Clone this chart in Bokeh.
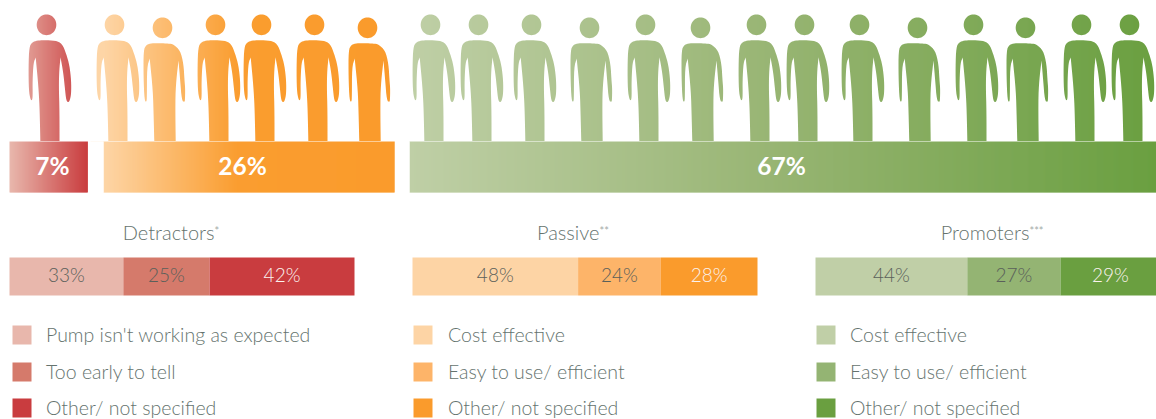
from bokeh.plotting import figure
from bokeh.models import Range1d
from bokeh.core.properties import value
from bokeh.embed import file_html
from bokeh.resources import INLINE
import math

# ---- data ----
group_names = ["Detractors", "Passive", "Promoters"]
group_marks = ["*", "**", "***"]
group_shares = [7, 26, 67]
detractor_values = [33, 25, 42]
passive_values = [48, 24, 28]
promoter_values = [44, 27, 29]
detractor_labels = ["Pump isn't working as expected", "Too early to tell", "Other/ not specified"]
passive_labels = ["Cost effective", "Easy to use/ efficient", "Other/ not specified"]
promoter_labels = ["Cost effective", "Easy to use/ efficient", "Other/ not specified"]
red_shades = ["#e8b7ac", "#d57a6b", "#c93c3f"]
orange_shades = ["#fdd4a5", "#fdb469", "#fa9b2c"]
green_shades = ["#c0cfa7", "#94b473", "#6a9f40"]

# ---- layout (reference pixels) ----
TXT = "#65736e"
FONT = value("Lato Light")
share_starts = [9, 103, 409]
share_scale = 11.2
seg_starts = [9, 412, 815]
seg_scale = 3.45
square_x = [12, 413, 816]
label_x = [45.5, 447.5, 849.5]
legend_y = [325, 362, 398]
legend_mid = [333.5, 370.5, 406.5]
share_centers = [52, 242, 781]
title_end = [214, 599, 1029]
grad_stops = [
    [(0, "#e8b7ac"), (1, "#c93c3e")],
    [(0, "#fdd5a6"), (0.46, "#fa9d30"), (1, "#fa9b2c")],
    [(0, "#bfcfa6"), (0.48, "#98b574"), (1, "#6a9f40")],
]

p = figure(width=1156, height=419, output_backend="svg", toolbar_location=None,
           x_range=Range1d(0, 1156), y_range=Range1d(419, 0),
           min_border=0, outline_line_color=None, background_fill_color="white")
p.axis.visible = False
p.grid.visible = False


def hex2rgb(h):
    return tuple(int(h[i:i + 2], 16) for i in (1, 3, 5))


def ramp(stops, t):
    for (a, ca), (b, cb) in zip(stops, stops[1:]):
        if t <= b:
            u = (t - a) / (b - a)
            ra, rb = hex2rgb(ca), hex2rgb(cb)
            return "#%02x%02x%02x" % tuple(round(x + (y - x) * u) for x, y in zip(ra, rb))
    return stops[-1][1]


# gradient columns, later masked down to silhouettes
L, R, C = [], [], []
for start, share, stops in zip(share_starts, group_shares, grad_stops):
    w = share * share_scale
    n = int(w)
    for i in range(n):
        L.append(start + i)
        R.append(min(start + i + 1.6, start + w))
        C.append(ramp(stops, i / n))
# the first orange figure's arm reaches left of its bar
p.quad(left=[90], right=[104], top=10, bottom=141, fill_color=[grad_stops[1][0][1]], line_color=None)
p.quad(left=L, right=R, top=10, bottom=192, fill_color=C, line_color=None)

# silhouettes: (head x, variant)
people_x = [46, 114, 162, 215, 261, 314, 367, 430, 478, 531, 589, 645, 700, 756, 804, 859, 917, 973, 1025, 1081, 1129]
people_short = [0, 0, 1, 0, 0, 0, 1, 0, 0, 0, 1, 0, 1, 0, 0, 0, 1, 0, 1, 0, 0]
body_a = [(-2.7, 39.7), (9, 40), (15.7, 43.3), (19.7, 53.3), (23, 65), (24.7, 80), (24.7, 93.3), (23.3, 100),
          (21.7, 102), (19.7, 100), (18.3, 86.7), (16.7, 71.7), (14, 56.7), (14, 56.7), (12.7, 70), (12.3, 86.7),
          (13, 110), (13, 150), (13, 150), (-6, 150), (-6, 150), (-6.5, 123), (-7.2, 100), (-8.6, 80), (-10.8, 57),
          (-10.8, 57), (-13, 62), (-14, 80), (-13.8, 96), (-14.5, 100), (-16, 99.3), (-17.7, 90), (-18, 66.7),
          (-17.3, 46.7), (-14.3, 41.7), (-9.3, 40)]
body_b = [(-2.7, 42.7), (6, 43), (11, 43.8), (17.7, 50), (21, 63), (22, 80), (22.7, 88), (22.5, 99),
          (22, 101.7), (19.3, 100), (17.7, 80), (16, 60), (16, 60), (13.7, 80), (12.7, 100), (13.3, 150), (13.3, 150),
          (-8, 150), (-8, 150), (-8.8, 117), (-9.6, 90), (-12.8, 58), (-12.8, 58), (-15.5, 66.7), (-15.6, 96),
          (-16, 101.7), (-18, 100), (-19, 76.7), (-19, 50), (-16.3, 44.3), (-10.7, 42.7)]


def chaikin(pts, n=2):
    for _ in range(n):
        out = []
        m = len(pts)
        for i in range(m):
            a, b = pts[i], pts[(i + 1) % m]
            out.append((a[0] * .75 + b[0] * .25, a[1] * .75 + b[1] * .25))
            out.append((a[0] * .25 + b[0] * .75, a[1] * .25 + b[1] * .75))
        pts = out
    return pts


smooth = [chaikin(body_a), chaikin(body_b)]
rings_x, rings_y = [[0, 1156, 1156, 0]], [[0, 0, 141, 141]]
for cx, short in zip(people_x, people_short):
    cy = 27.3 if short else 24.3
    rings_x.append([cx + 9.8 * math.cos(k * math.pi / 24) for k in range(48)])
    rings_y.append([cy + 10.4 * math.sin(k * math.pi / 24) for k in range(48)])
    rings_x.append([cx + a for a, b in smooth[short]])
    rings_y.append([min(b, 141.5) for a, b in smooth[short]])
p.multi_polygons(xs=[[rings_x]], ys=[[rings_y]], fill_color="white", line_color=None)
# white gap strips between the three bars
for a, b in [(88, 103), (395, 409)]:
    p.quad(left=a, right=b, top=141, bottom=192, fill_color="white", line_color=None)

p.text(x=share_centers, y=[165] * 3, text=[f"{v}%" for v in group_shares], text_align="center",
       text_color="white", text_font=value("Lato"), text_font_style="bold", text_font_size="24.5px",
       text_baseline="middle")

# stacked 100% bars, titles, legends
all_values = [detractor_values, passive_values, promoter_values]
all_labels = [detractor_labels, passive_labels, promoter_labels]
all_shades = [red_shades, orange_shades, green_shades]
for g in range(3):
    pos = seg_starts[g]
    for j in range(3):
        v = all_values[g][j]
        w = v * seg_scale
        p.quad(left=pos, right=pos + w, top=257, bottom=295, fill_color=all_shades[g][j], line_color=None)
        col = "#fbf3ef" if j == 2 else "#5a605a"
        p.text(x=[pos + w / 2], y=[274], text=[f"{v}%"], text_align="center", text_color=col,
               text_font=FONT, text_font_size="19px", text_baseline="middle")
        p.quad(left=square_x[g], right=square_x[g] + 19, top=legend_y[j], bottom=legend_y[j] + 19,
               fill_color=all_shades[g][j], line_color=None)
        p.text(x=[label_x[g]], y=[legend_mid[j]], text=[all_labels[g][j]], text_color=TXT,
               text_font=FONT, text_font_size="19.5px", text_baseline="middle")
        pos += w
    p.text(x=[title_end[g]], y=[231], text=[group_names[g]], text_align="right", text_color=TXT,
           text_font=FONT, text_font_size="20px", text_baseline="middle")
    p.text(x=[title_end[g]], y=[230], text=[group_marks[g]], text_align="left", text_color="#a3aca8",
           text_font=value("Lato"), text_font_size="11px", text_baseline="middle")

open("out.html", "w").write(file_html(p, INLINE))
